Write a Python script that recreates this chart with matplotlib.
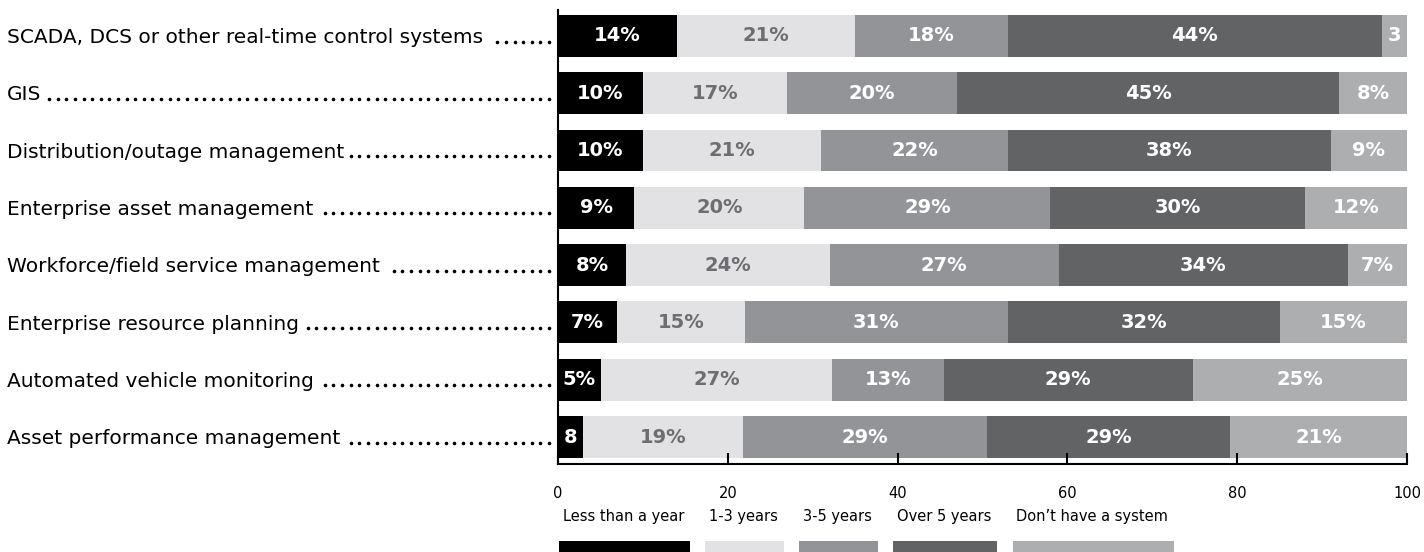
import numpy as np
import matplotlib.pyplot as plt
from matplotlib.patches import Rectangle
from matplotlib.transforms import blended_transform_factory

plt.rcParams['font.family'] = ['DejaVu Sans']

# categories, top to bottom
systems = ["SCADA, DCS or other real-time control systems",
           "GIS",
           "Distribution/outage management",
           "Enterprise asset management",
           "Workforce/field service management",
           "Enterprise resource planning",
           "Automated vehicle monitoring",
           "Asset performance management"]

series = ["Less than a year", "1-3 years", "3-5 years", "Over 5 years", "Don\u2019t have a system"]

less_than_year = [14, 10, 10, 9, 8, 7, 5, 3]
one_to_three = [21, 17, 21, 20, 24, 15, 27, 19]
three_to_five = [18, 20, 22, 29, 27, 31, 13, 29]
over_five = [44, 45, 38, 30, 34, 32, 29, 29]
no_system = [3, 8, 9, 12, 7, 15, 25, 21]

# text as printed on each segment (some are clipped in the original)
label_text = [
    ["14%", "10%", "10%", "9%", "8%", "7%", "5%", "8"],
    ["21%", "17%", "21%", "20%", "24%", "15%", "27%", "19%"],
    ["18%", "20%", "22%", "29%", "27%", "31%", "13%", "29%"],
    ["44%", "45%", "38%", "30%", "34%", "32%", "29%", "29%"],
    ["3", "8%", "9%", "12%", "7%", "15%", "25%", "21%"],
]

colors = ["#000000", "#e2e2e4", "#939497", "#626365", "#adaeb0"]
text_colors = ["white", "#6d6e71", "white", "white", "white"]

data = np.array([less_than_year, one_to_three, three_to_five, over_five, no_system], dtype=float)
data = data / data.sum(axis=0) * 100

fig = plt.figure(figsize=(14.24, 5.52), dpi=100)
ax = fig.add_axes([558 / 1424, 1 - 464 / 552, (1407 - 558) / 1424, (464 - 10) / 552])

y = np.arange(len(systems))
left = np.zeros(len(systems))
for k in range(len(series)):
    bars = ax.barh(y, data[k], left=left, height=0.73, color=colors[k], linewidth=0)
    for i, bar in enumerate(bars):
        t = ax.text(left[i] + data[k][i] / 2, y[i], label_text[k][i], ha='center', va='center',
                    color=text_colors[k], fontsize=14, fontweight='bold')
        t.set_clip_path(bar)
    left += data[k]

ax.set_xlim(0, 100)
ax.set_ylim(7.47, -0.45)
ax.set_yticks([])
ax.set_xticks([0, 20, 40, 60, 80, 100])
ax.tick_params(axis='x', direction='in', length=8, width=1.5, labelsize=10.5, pad=16, color='black')
for s in ['top', 'right']:
    ax.spines[s].set_visible(False)
for s in ['left', 'bottom']:
    ax.spines[s].set_linewidth(1.5)

# category labels with dot leaders
trans = blended_transform_factory(fig.transFigure, ax.transData)
labels = []
for i, name in enumerate(systems):
    labels.append(ax.text(7 / 1424, i + 0.125, name, ha='left', va='baseline', fontsize=14.5,
                          transform=trans, clip_on=False))
fig.canvas.draw()
W = fig.bbox.width
for i, t in enumerate(labels):
    x_end = t.get_window_extent().x1
    xs = []
    x = 549.0
    while x > x_end + 6:
        xs.append(x / W)
        x -= 8.62
    ax.plot(xs, [i + 0.1] * len(xs), linestyle='none', marker='o', markersize=2.6,
            markeredgewidth=0, color='black', transform=trans, clip_on=False)

# legend: text above a colored strip
x = 559.0
for k, name in enumerate(series):
    t = fig.text((x + 4) / W, 1 - 521 / 552, name, ha='left', va='baseline', fontsize=10.5)
    fig.canvas.draw()
    w = t.get_window_extent().width + 10
    fig.patches.append(Rectangle((x / W, 0), w / W, 11 / 552, transform=fig.transFigure,
                                 color=colors[k], linewidth=0))
    x += w + 15

fig.savefig("out.png", dpi=100)
